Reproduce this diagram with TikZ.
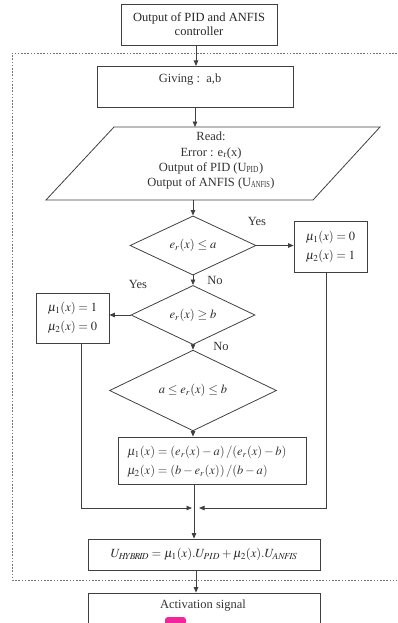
\documentclass[tikz,border=0pt]{standalone}
\usepackage{mathptmx}
\usepackage[no-math]{fontspec}
\setmainfont{Liberation Serif}
\usetikzlibrary{shapes.geometric,arrows.meta}
\tikzset{
  ln/.style={draw=black!75, line width=0.8pt},
  box/.style={ln, rectangle, inner sep=0pt, align=center},
  dia/.style={ln, diamond, inner sep=0pt},
  arr/.style={ln, -{Triangle[length=5.5pt,width=4.5pt]}},
  frame/.style={draw=black!55, line width=0.7pt, dash pattern=on 1.6pt off 1.6pt},
  lbl/.style={inner sep=0pt, text=black!80},
}
\begin{document}
\begin{tikzpicture}[x=1pt,y=-1pt, font=\fontsize{12.5}{15}\selectfont, text=black!85]
\useasboundingbox (0,0) rectangle (397,623);
\clip (0,0) rectangle (397,623);
% dashed frame
\draw[frame] (397,53) -- (12,53) -- (12,580) -- (397,580);
% top box
\node[box, minimum width=156pt, minimum height=41pt] (top) at (199,24.5)
  {Output of PID and ANFIS\\[-1pt]controller};
% giving
\node[box, minimum width=196pt, minimum height=41pt] (give) at (195,86.5) {};
\node[lbl] (givet) at (190,80) {Giving :\ \ a,b};
\coordinate (gt) at (196,66);
\coordinate (ts2) at (196,45);
\draw[arr] (ts2) -- (gt);
% parallelogram
\coordinate (p1) at (114,127);
\coordinate (p2) at (380,127);
\coordinate (p3) at (313,200);
\coordinate (p4) at (46,200);
\draw[ln] (p1) -- (p2) -- (p3) -- (p4) -- cycle;
\node[lbl, align=center, font=\fontsize{12.5}{15}\selectfont] (read) at (211,160)
  {Read:\\[1pt]Error : e\textsubscript{r}(x)\\Output of PID (U\textsubscript{\scalebox{0.8}[1]{PID}})\\Output of ANFIS (U\textsubscript{\scalebox{0.7}[1]{ANFIS}})};
\coordinate (ptop) at (195,127);
\draw[arr] (give.south) -- (ptop);
\coordinate (pbot) at (193,200);
% diamond 1
\node[dia, minimum width=126pt, minimum height=47pt] (d1) at (193,245.5) {$e_r(x)\le a$};
\draw[arr] (pbot) -- (d1.north);
\node[lbl] (yes1) at (257,221) {Yes};
\node[box, minimum width=73pt, minimum height=51pt] (r1) at (330.5,246.5)
  {$\mu_1(x)=0$\\[4pt]$\mu_2(x)=1$};
\draw[arr] (d1.east) -- (d1.east -| r1.west);
% diamond 2
\node[dia, minimum width=124pt, minimum height=46pt] (d2) at (193,315) {$e_r(x)\ge b$};
\draw[arr] (d1.south) -- (d2.north);
\node[lbl] (no1) at (215,280) {No};
\node[lbl] (yes2) at (138,284) {Yes};
\node[box, minimum width=73pt, minimum height=50pt] (l1) at (72.5,318)
  {$\mu_1(x)=1$\\[4pt]$\mu_2(x)=0$};
\draw[arr] (d2.west) -- (d2.west -| l1.east);
% diamond 3
\node[lbl] (no2) at (221,346) {No};
\node[dia, minimum width=167pt, minimum height=47pt] (d3) at (193,390.5) {$a\le e_r(x)\le b$};
\draw[arr] (d2.south) -- (d3.north);
% box 4
\node[box, minimum width=188pt, minimum height=47pt] (b4) at (212,460.5) {};
\node[lbl, align=left, anchor=west] (b4t) at (127,462)
  {$\mu_1(x)=(e_r(x)-a)\,/(e_r(x)-b)$\\[4pt]$\mu_2(x)=(b-e_r(x))\,/(b-a)$};
\draw[arr] (d3.south) -- (d3.south |- b4.north);
% merge
\coordinate (ls) at (81,343);
\coordinate (jl) at (192,508);
\coordinate (rs) at (326,272);
\coordinate (jr) at (199,508);
\draw[arr] (ls) |- (jl);
\draw[arr] (rs) |- (jr);
\coordinate (b4s) at (194,484);
% hybrid
\node[box, minimum width=232pt, minimum height=31pt] (hy) at (204,554.5)
  {$U_{H\!Y\!B\!R\!I\!D}=\mu_1(x).U_{PID}+\mu_2(x).U_{AN\!F\!I\!S}$};
\draw[arr] (b4s) -- (b4s |- hy.north);
% activation
\node[box, minimum width=232pt, minimum height=40pt] (act) at (204,613) {};
\node[lbl] (actt) at (203,606) {Activation signal};
\coordinate (hs) at (196,570);
\draw[arr] (hs) -- (hs |- act.north);
\fill[magenta!85!white, rounded corners=3pt] (165,617) rectangle (186,630);
\end{tikzpicture}
\end{document}
